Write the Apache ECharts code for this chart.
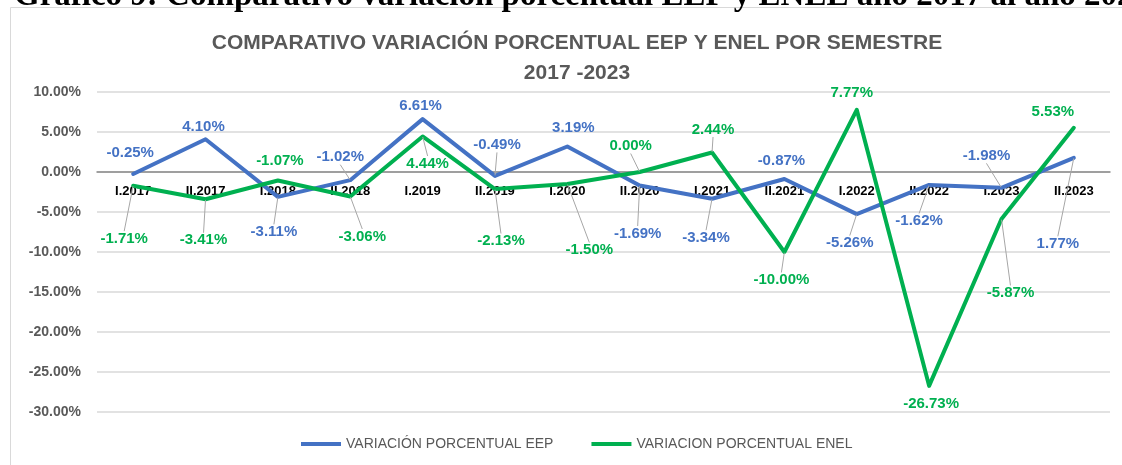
<!DOCTYPE html>
<html>
<head>
<meta charset="utf-8">
<script src="https://cdn.jsdelivr.net/npm/echarts@6/dist/echarts.min.js"></script>
<style>
  html, body { margin: 0; padding: 0; background: #fff; }
  #chart { width: 1122px; height: 465px; }
</style>
</head>
<body>
<div id="chart"></div>
<script>
// semestres
var semestres = ['I.2017', 'II.2017', 'I.2018', 'II.2018', 'I.2019', 'II.2019', 'I.2020',
    'II.2020', 'I.2021', 'II.2021', 'I.2022', 'II.2022', 'I.2023', 'II.2023'];
// variacion porcentual (%)
var variacionEEP = [-0.25, 4.10, -3.11, -1.02, 6.61, -0.49, 3.19, -1.69, -3.34, -0.87, -5.26, -1.62, -1.98, 1.77];
var variacionENEL = [-1.71, -3.41, -1.07, -3.06, 4.44, -2.13, -1.50, 0.00, 2.44, -10.00, 7.77, -26.73, -5.87, 5.53];
var nombres = ['VARIACIÓN PORCENTUAL EEP', 'VARIACION PORCENTUAL ENEL'];

// desplazamiento de las etiquetas (px) respecto al punto, y si llevan linea guia
var offsetsEEP = [[-3, -21], [-2, -12], [-4, 35], [-10, -23], [-2, -13], [2, -31], [6, -19],
    [-2, 48], [-6, 39], [-3, -18], [-7, 29], [-10, 36], [-15, -32], [-16, 86]];
var offsetsENEL = [[-9, 53], [-2, 41], [2, -20], [12, 40], [5, 27], [6, 52], [22, 66],
    [-9, -26], [1, -23], [-3, 28], [-5, -17], [2, 18], [9, 74], [-21, -16]];
var guiaEEP = [false, false, true, true, false, true, false, true, true, false, true, true, true, true];
var guiaENEL = [true, true, false, true, true, true, true, true, true, true, false, false, true, false];

var offsets = [offsetsEEP, offsetsENEL];

function puntos(valores, guias) {
    return valores.map(function (v, i) {
        return { value: v, labelLine: { show: guias[i] } };
    });
}

function serie(nombre, valores, guias, color) {
    return {
        name: nombre,
        type: 'line',
        data: puntos(valores, guias),
        symbol: 'circle',
        symbolSize: 1,
        lineStyle: { width: 4, cap: 'round', join: 'round' },
        label: {
            show: true,
            position: 'inside',
            color: color,
            fontSize: 15,
            fontWeight: 'bold',
            formatter: function (p) { return p.value.toFixed(2) + '%'; }
        },
        labelLine: { lineStyle: { color: '#a6a6a6', width: 1 } },
        labelLayout: function (p) {
            var o = offsets[p.seriesIndex][p.dataIndex];
            return { dx: o[0], dy: o[1] };
        }
    };
}

var chart = echarts.init(document.getElementById('chart'));
var option = {
    color: ['#4472C4', '#00B050'],
    animation: false,
    textStyle: { fontFamily: 'Liberation Sans' },
    title: {
        text: 'COMPARATIVO VARIACIÓN PORCENTUAL EEP Y ENEL POR SEMESTRE\n2017 -2023',
        left: 572,
        top: 23,
        textAlign: 'center',
        textStyle: {
            color: '#595959',
            fontSize: 21,
            fontWeight: 'bold',
            lineHeight: 30
        }
    },
    graphic: [
        {
            // marco del grafico
            type: 'rect',
            shape: { x: 10.5, y: 7.5, width: 1200, height: 600 },
            style: { fill: 'none', stroke: '#d9d9d9', lineWidth: 1 },
            z: -1
        },
        {
            // titulo del documento (cortado arriba)
            type: 'text',
            left: 14,
            top: -20,
            style: {
                text: 'Gráfico 9: Comparativo variación porcentual EEP y ENEL año 2017 al año 2023',
                font: 'bold 33px "Liberation Serif"',
                fill: '#000'
            }
        }
    ],
    legend: {
        data: nombres,
        bottom: 9,
        left: 296,
        icon: 'rect',
        itemWidth: 40,
        itemHeight: 4,
        itemGap: 38,
        textStyle: { color: '#595959', fontSize: 14 }
    },
    grid: {
        left: 97,
        right: 12,
        top: 92,
        bottom: 53,
        containLabel: false
    },
    xAxis: [
        {
            // linea del cero
            type: 'category',
            data: semestres,
            axisTick: { show: false },
            axisLine: { lineStyle: { color: '#898989', width: 1.5 } },
            axisLabel: { show: false }
        },
        {
            // etiquetas de semestre junto al cero
            type: 'category',
            data: semestres,
            position: 'bottom',
            offset: -240,
            z: 3,
            axisTick: { show: false },
            axisLine: { show: false, onZero: false },
            axisLabel: {
                color: '#000',
                fontSize: 13,
                fontWeight: 'bold',
                margin: 13
            }
        }
    ],
    yAxis: {
        type: 'value',
        min: -30,
        max: 10,
        interval: 5,
        axisLine: { show: false },
        axisTick: { show: false },
        axisLabel: {
            color: '#595959',
            fontSize: 14,
            fontWeight: 'bold',
            margin: 16,
            formatter: function (v) { return v.toFixed(2) + '%'; }
        },
        splitLine: { lineStyle: { color: '#d9d9d9', width: 1.5 } }
    },
    series: [
        serie(nombres[0], variacionEEP, guiaEEP, '#4472C4'),
        serie(nombres[1], variacionENEL, guiaENEL, '#00B050')
    ]
};
chart.setOption(option);
</script>
</body>
</html>
